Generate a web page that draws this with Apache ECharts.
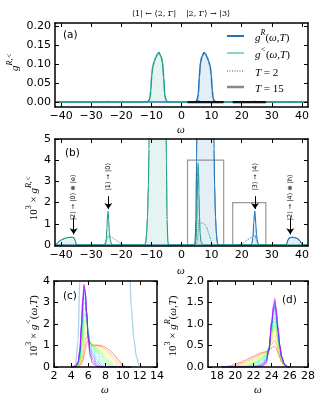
<!DOCTYPE html>
<html>
<head>
<meta charset="utf-8">
<script src="https://cdn.jsdelivr.net/npm/echarts@6/dist/echarts.min.js"></script>
<style>
  html, body { margin: 0; padding: 0; background: #fff; }
  #chart { width: 325px; height: 400px; }
</style>
</head>
<body>
<div id="chart"></div>
<script>
// all g values are in units of 1e-3

// side bumps (|2> -> |0>(x)|e>  and  |2> -> |4>(x)|h>)
const sideBumpLessOmega = [-42, -41.5, -40.5, -39.5, -38.5, -37.5, -36.5, -35.7, -35.3, -35.0, -34.6];
const sideBumpLess = [0.02, 0.05, 0.18, 0.27, 0.32, 0.35, 0.36, 0.34, 0.2, 0.06, 0];
const sideBumpRetOmega = [34.6, 35.0, 35.3, 35.7, 36.5, 37.5, 38.5, 39.3, 39.8, 40.3, 41, 42];
const sideBumpRet = [0, 0.08, 0.22, 0.32, 0.36, 0.35, 0.30, 0.2, 0.08, 0.01, 0, 0];

// |1> -> |0> peak, T=15 and T=2
const peak10Omega15 = [-26, -25.4, -25.0, -24.75, -24.55, -24.35, -24.15, -23.95, -23.65, -23.3, -22.8];
const peak10Val15 = [0, 0.05, 0.25, 0.8, 1.45, 1.6, 1.15, 0.6, 0.25, 0.05, 0];
const peak10Omega2 = [-26, -25.2, -24.8, -24.5, -24.2, -23.8, -23.4, -23, -22.5, -22, -21.5, -21, -20.5, -20, -19.5, -19, -18.5];
const peak10Val2 = [0, 0.05, 0.25, 0.4, 0.4, 0.38, 0.36, 0.34, 0.30, 0.25, 0.2, 0.15, 0.1, 0.06, 0.03, 0.01, 0];

// main peaks
const mainLessOmega = [-12.2, -11.9, -11.6, -11.3, -11.0, -10.8, -10.5, -10.2, -9.9, -9.5, -9.0, -8.5, -8.0, -7.5, -6.8, -6.3, -5.9, -5.6, -5.3, -5.0, -4.8, -4.5, -4.2];
const mainLess = [0, 0.1, 0.5, 1.3, 2.8, 4.5, 10, 30, 70, 95, 108, 118, 126, 130, 120, 104, 65, 22, 9, 4, 1.2, 0.1, 0];
const mainRetOmega = [4.2, 4.5, 4.8, 5.0, 5.3, 5.6, 5.9, 6.3, 6.8, 7.5, 8.0, 8.5, 9.0, 9.5, 9.9, 10.2, 10.5, 10.8, 11.0, 11.3, 11.6, 11.9, 12.2];
const mainRet = [0, 0.1, 1.2, 4, 9, 22, 65, 104, 120, 130, 126, 118, 108, 95, 70, 30, 10, 4.5, 2.8, 1.3, 0.5, 0.1, 0];

// panel (c): g< around |2,G> -> |3> for T = 2..15
const temps = [2, 3, 4, 5, 6, 7, 8, 9, 10, 11, 12, 13, 14, 15];
const cOmega = [4.0, 4.5, 4.8, 5.0, 5.2, 5.35, 5.5, 5.65, 5.8, 6.0, 6.2, 6.5, 7.0, 7.5, 8.0, 8.5, 9.0, 9.5, 10.0, 10.5, 11.0];
const cLess = [
  [0, 0, .02, .06, .15, .30, .55, .85, 1.10, 1.25, 1.12, 1.02, 1.02, 1.00, .92, .78, .58, .34, .10, 0, 0],
  [0, 0, .03, .09, .25, .50, .85, 1.20, 1.40, 1.35, 1.15, 1.01, 1.00, .95, .84, .66, .44, .20, .04, 0, 0],
  [0, .01, .04, .13, .38, .75, 1.20, 1.55, 1.65, 1.40, 1.15, 1.00, .97, .89, .74, .52, .28, .08, 0, 0, 0],
  [0, .01, .05, .18, .55, 1.05, 1.60, 1.90, 1.85, 1.45, 1.15, .99, .93, .81, .62, .38, .15, .02, 0, 0, 0],
  [0, .01, .07, .25, .75, 1.40, 2.00, 2.20, 2.00, 1.50, 1.15, .98, .88, .72, .49, .25, .06, 0, 0, 0, 0],
  [0, .01, .09, .33, .95, 1.75, 2.35, 2.50, 2.15, 1.55, 1.14, .96, .82, .61, .36, .13, .01, 0, 0, 0, 0],
  [0, .02, .11, .41, 1.15, 2.05, 2.70, 2.75, 2.25, 1.55, 1.12, .93, .74, .48, .22, .04, 0, 0, 0, 0, 0],
  [0, .02, .13, .49, 1.35, 2.35, 3.00, 2.95, 2.35, 1.55, 1.08, .88, .63, .33, .10, 0, 0, 0, 0, 0, 0],
  [0, .02, .15, .56, 1.55, 2.60, 3.25, 3.15, 2.45, 1.50, 1.00, .80, .49, .18, .02, 0, 0, 0, 0, 0, 0],
  [0, .02, .17, .62, 1.70, 2.80, 3.45, 3.30, 2.50, 1.45, .90, .68, .33, .07, 0, 0, 0, 0, 0, 0, 0],
  [0, .02, .19, .68, 1.82, 2.98, 3.62, 3.40, 2.55, 1.38, .78, .52, .18, .01, 0, 0, 0, 0, 0, 0, 0],
  [0, .03, .21, .73, 1.92, 3.10, 3.74, 3.46, 2.55, 1.30, .65, .35, .07, 0, 0, 0, 0, 0, 0, 0, 0],
  [0, .03, .23, .77, 1.98, 3.18, 3.82, 3.49, 2.53, 1.25, .55, .22, .03, 0, 0, 0, 0, 0, 0, 0, 0],
  [0, .03, .25, .80, 2.00, 3.20, 3.86, 3.50, 2.50, 1.20, .50, .15, .02, 0, 0, 0, 0, 0, 0, 0, 0]
];

// panel (d): gR around |3> -> |4>
const dOmega = [18.5, 19.0, 19.5, 20.0, 20.5, 21.0, 21.5, 22.0, 22.5, 23.0, 23.4, 23.7, 24.0, 24.2, 24.35, 24.5, 24.7, 24.9, 25.1, 25.4, 25.7, 26.0];
const dRet = [
  [0, .01, .03, .06, .10, .15, .20, .25, .30, .34, .36, .39, .44, .48, .48, .44, .33, .21, .11, .03, .01, 0],
  [0, 0, .01, .03, .07, .11, .16, .22, .27, .32, .35, .40, .52, .60, .62, .55, .40, .25, .13, .04, .01, 0],
  [0, 0, 0, .01, .04, .08, .13, .18, .24, .30, .34, .42, .60, .72, .75, .66, .47, .29, .15, .04, .01, 0],
  [0, 0, 0, 0, .02, .05, .09, .15, .21, .28, .33, .43, .67, .82, .86, .76, .53, .32, .16, .05, .01, 0],
  [0, 0, 0, 0, .01, .03, .06, .11, .18, .25, .31, .44, .73, .92, .97, .85, .59, .35, .18, .05, .01, 0],
  [0, 0, 0, 0, 0, .01, .04, .08, .14, .22, .29, .45, .79, 1.01, 1.07, .94, .65, .38, .19, .05, .01, 0],
  [0, 0, 0, 0, 0, 0, .02, .05, .11, .19, .27, .45, .84, 1.09, 1.16, 1.02, .70, .41, .20, .06, .01, 0],
  [0, 0, 0, 0, 0, 0, .01, .03, .08, .16, .25, .45, .89, 1.17, 1.25, 1.09, .75, .43, .21, .06, .01, 0],
  [0, 0, 0, 0, 0, 0, 0, .02, .05, .12, .22, .44, .93, 1.23, 1.32, 1.15, .79, .45, .22, .06, .01, 0],
  [0, 0, 0, 0, 0, 0, 0, .01, .03, .09, .19, .43, .97, 1.29, 1.39, 1.21, .83, .47, .23, .06, .01, 0],
  [0, 0, 0, 0, 0, 0, 0, 0, .02, .06, .16, .41, 1.00, 1.34, 1.45, 1.26, .86, .49, .24, .07, .01, 0],
  [0, 0, 0, 0, 0, 0, 0, 0, .01, .04, .13, .39, 1.03, 1.38, 1.51, 1.31, .89, .50, .24, .07, .01, 0],
  [0, 0, 0, 0, 0, 0, 0, 0, 0, .02, .10, .37, 1.05, 1.42, 1.56, 1.35, .91, .51, .25, .07, .01, 0],
  [0, 0, 0, 0, 0, 0, 0, 0, 0, .01, .08, .35, 1.07, 1.45, 1.60, 1.38, .93, .52, .25, .07, .01, 0]
];
const tempColors = ['#ff0000', '#ff6200', '#ffc400', '#d9ff00', '#77ff00', '#15ff00', '#00ff4d',
  '#00ffb3', '#00eaff', '#0088ff', '#0026ff', '#3c00ff', '#9d00ff', '#ff00ff'];

// zoom windows
const zoomRangeC = [2, 14], zoomTopC = 4;
const zoomRangeD = [17, 28], zoomTopD = 2;

// transition labels in (b)
const annotOmega = [-35.8, -24.3, 24.4, 36.1];
const annotLabelY = [2.25, 3.22, 3.22, 2.25];
const arrowFromY = [1.3, 2.3, 2.3, 1.3];
const arrowToY = [0.5, 1.7, 1.7, 0.5];
const annotText = ['|2⟩ → |0⟩ ⊗ |e⟩', '|1⟩ → |0⟩', '|3⟩ → |4⟩', '|2⟩ → |4⟩ ⊗ |h⟩'];

// ticks
const omegaTicks = [-40, -30, -20, -10, 0, 10, 20, 30, 40];
const aTicks = [0, 0.05, 0.1, 0.15, 0.2];
const bTicks = [0, 1, 2, 3, 4, 5];
const cxTicks = [2, 4, 6, 8, 10, 12, 14];
const cyTicks = [0, 1, 2, 3, 4];
const dxTicks = [18, 20, 22, 24, 26, 28];
const dyTicks = [0, 0.5, 1, 1.5, 2];

// full curves for (a)/(b)
const gLessOmega15 = [...sideBumpLessOmega, ...peak10Omega15, ...mainLessOmega, ...cOmega, 42];
const gLess15 = [...sideBumpLess, ...peak10Val15, ...mainLess, ...cLess[13], 0];
const gLessOmega2 = [...sideBumpLessOmega, ...peak10Omega2, ...mainLessOmega, ...cOmega, 42];
const gLess2 = [...sideBumpLess, ...peak10Val2, ...mainLess, ...cLess[0], 0];
const gRetOmega15 = [-42, ...mainRetOmega, ...dOmega, ...sideBumpRetOmega];
const gRet15 = [0, ...mainRet, ...dRet[13], ...sideBumpRet];
const gRetOmega2 = [-42, ...mainRetOmega, ...dOmega, ...sideBumpRetOmega];
const gRet2 = [0, ...mainRet, ...dRet[0], ...sideBumpRet];

const blue = '#2474b5', blueFill = 'rgba(36,116,181,0.18)';
const green = '#23a08b', greenFill = 'rgba(31,158,137,0.17)';

const pairs = (xs, ys, scale = 1) => xs.map((x, i) => [x, ys[i] * scale]);
const minus = v => String(v).replace('-', '\u2212');

function axes(kind, gridIndex, min, max, ticks, fmt) {
  const base = {
    type: 'value', gridIndex, min, max, z: 10,
    axisLine: {show: true, onZero: false, lineStyle: {color: '#000', width: 1.5}},
    axisTick: {show: true, inside: true, length: 4, customValues: ticks, lineStyle: {color: '#000', width: 1}},
    splitLine: {show: false}
  };
  return [
    {...base, position: kind === 'x' ? 'bottom' : 'left',
      axisLabel: {show: true, customValues: ticks, formatter: fmt, color: '#000',
        fontFamily: 'DejaVu Sans', fontSize: 11, margin: 4}},
    {...base, position: kind === 'x' ? 'top' : 'right', axisLabel: {show: false}}
  ];
}

const xAxis = [
  ...axes('x', 0, -42, 42, omegaTicks, minus),
  ...axes('x', 1, -42, 42, omegaTicks, minus),
  ...axes('x', 2, 2, 14, cxTicks, v => v),
  ...axes('x', 3, 17, 28, dxTicks, v => v)
];
const yAxis = [
  ...axes('y', 0, -0.013, 0.208, aTicks, v => v.toFixed(2)),
  ...axes('y', 1, -0.05, 5, bTicks, v => v),
  ...axes('y', 2, 0, 4, cyTicks, v => v),
  ...axes('y', 3, 0, 2, dyTicks, v => v.toFixed(1))
];

const lineBase = {type: 'line', showSymbol: false, smooth: 0.3, smoothMonotone: 'x', silent: true};

const series = [
  // (a)
  {...lineBase, xAxisIndex: 0, yAxisIndex: 0, data: pairs(gRetOmega15, gRet15, 1e-3),
    lineStyle: {color: blue, width: 1.6}, areaStyle: {color: blueFill}},
  {...lineBase, xAxisIndex: 0, yAxisIndex: 0, data: pairs(gLessOmega15, gLess15, 1e-3),
    lineStyle: {color: green, width: 1.6}, areaStyle: {color: greenFill}},
  {...lineBase, smooth: false, xAxisIndex: 0, yAxisIndex: 0, data: zoomRangeC.map(x => [x, 0]),
    lineStyle: {color: '#111', width: 2.2}},
  {...lineBase, smooth: false, xAxisIndex: 0, yAxisIndex: 0, data: zoomRangeD.map(x => [x, 0]),
    lineStyle: {color: '#111', width: 2.2}},
  // (b)
  {...lineBase, xAxisIndex: 2, yAxisIndex: 2, data: pairs(gRetOmega15, gRet15),
    lineStyle: {color: blue, width: 1.1}, areaStyle: {color: blueFill}},
  {...lineBase, xAxisIndex: 2, yAxisIndex: 2, data: pairs(gRetOmega2, gRet2),
    lineStyle: {color: blue, width: 1, type: 'dotted'},
    markArea: {silent: true, label: {show: false},
      itemStyle: {color: 'rgba(0,0,0,0)', borderColor: '#999', borderWidth: 1.2},
      data: [
        [{coord: [zoomRangeC[0], 0]}, {coord: [zoomRangeC[1], zoomTopC]}],
        [{coord: [zoomRangeD[0], 0]}, {coord: [zoomRangeD[1], zoomTopD]}]
      ]},
    markLine: {silent: true, symbol: ['none', 'arrow'], symbolSize: 6, label: {show: false},
      lineStyle: {color: '#000', width: 1, type: 'solid'},
      data: annotOmega.map((x, i) => [{coord: [x, arrowFromY[i]]}, {coord: [x, arrowToY[i]]}])}},
  {...lineBase, xAxisIndex: 2, yAxisIndex: 2, data: pairs(gLessOmega15, gLess15),
    lineStyle: {color: green, width: 1.1}, areaStyle: {color: greenFill}},
  {...lineBase, xAxisIndex: 2, yAxisIndex: 2, data: pairs(gLessOmega2, gLess2),
    lineStyle: {color: green, width: 1, type: 'dotted'}},
  // (c)
  {...lineBase, xAxisIndex: 4, yAxisIndex: 4, data: pairs(mainRetOmega, mainRet),
    lineStyle: {color: '#afd3ec', width: 1.4}},
  ...cLess.map((ys, k) => ({...lineBase, xAxisIndex: 4, yAxisIndex: 4, name: 'T=' + temps[k],
    data: pairs(cOmega, ys), lineStyle: {color: tempColors[k], width: 1, opacity: 0.42}})),
  // (d)
  ...dRet.map((ys, k) => ({...lineBase, xAxisIndex: 6, yAxisIndex: 6, name: 'T=' + temps[k],
    data: pairs(dOmega, ys), lineStyle: {color: tempColors[k], width: 1, opacity: 0.42}}))
];

const gridBase = {show: false, containLabel: false};
const option = {
  animation: false,
  backgroundColor: '#fff',
  grid: [
    {...gridBase, left: 55, top: 23, width: 253, height: 84},
    {...gridBase, left: 55, top: 139, width: 253, height: 107},
    {...gridBase, left: 54, top: 281, width: 103, height: 86},
    {...gridBase, left: 208, top: 281, width: 100, height: 86}
  ],
  xAxis, yAxis, series
};

const chart = echarts.init(document.getElementById('chart'));
chart.setOption(option);

// text
const serif = 'Liberation Serif';
const rich = {
  i: {fontFamily: serif, fontStyle: 'italic', fontSize: 11, lineHeight: 15, verticalAlign: 'bottom'},
  r: {fontFamily: serif, fontSize: 11, lineHeight: 15, verticalAlign: 'bottom'},
  si: {fontFamily: serif, fontStyle: 'italic', fontSize: 8, lineHeight: 8, verticalAlign: 'top'},
  sr: {fontFamily: serif, fontSize: 8, lineHeight: 8, verticalAlign: 'top'}
};
const txt = (x, y, text, extra = {}) => ({
  type: 'text', x, y, rotation: extra.rot || 0, z: 100,
  style: {text, rich, align: extra.align || 'center', verticalAlign: 'middle', fill: '#000',
    fontFamily: extra.family || serif, fontSize: extra.size || 11}
});
const seg = (x1, y1, x2, y2, color, width, dash) => ({
  type: 'line', z: 100, shape: {x1, y1, x2, y2},
  style: {stroke: color, lineWidth: width, lineDash: dash || null}
});
const R = Math.PI / 2;

const graphic = [
  // panel letters
  txt(63, 35, '(a)', {align: 'left', family: 'DejaVu Sans', size: 10.5}),
  txt(65, 153, '(b)', {align: 'left', family: 'DejaVu Sans', size: 10.5}),
  txt(63, 296, '(c)', {align: 'left', family: 'DejaVu Sans', size: 10.5}),
  txt(282, 300, '(d)', {align: 'left', family: 'DejaVu Sans', size: 10.5}),
  // axis names
  txt(13, 62, '{i|g}{si|R,<}', {rot: R}),
  txt(32, 198, '{r|10}{sr|3}{r| × }{i|g}{si|R,<}', {rot: R}),
  txt(32, 326, '{r|10}{sr|3}{r| × }{i|g}{si|<}{r|(}{i|ω}{r|,}{i|T}{r|)}', {rot: R}),
  txt(171, 326, '{r|10}{sr|3}{r| × }{i|g}{si|R}{r|(}{i|ω}{r|,}{i|T}{r|)}', {rot: R}),
  txt(181, 128, '{i|ω}'),
  txt(181, 269, '{i|ω}'),
  txt(105, 388, '{i|ω}'),
  txt(258, 388, '{i|ω}'),
  // top labels of (a)
  txt(154, 14, '⟨1| ← ⟨2, Γ|', {family: 'DejaVu Serif', size: 8}),
  txt(208, 14, '|2, Γ⟩ → |3⟩', {family: 'DejaVu Serif', size: 8}),
  // legend
  seg(227, 36, 244, 36, blue, 2),
  seg(227, 53, 244, 53, '#86d6c3', 2),
  seg(227, 71, 244, 71, '#555', 1, [1, 1.5]),
  seg(227, 87, 244, 87, '#888', 2.5),
  txt(255, 36, '{i|g}{si|R}{r|(}{i|ω}{r|,}{i|T}{r|)}', {align: 'left'}),
  txt(255, 53, '{i|g}{si|<}{r|(}{i|ω}{r|,}{i|T}{r|)}', {align: 'left'}),
  txt(255, 71, '{i|T}{r| = 2}', {align: 'left'}),
  txt(255, 87, '{i|T}{r| = 15}', {align: 'left'})
];

annotOmega.forEach((x, i) => {
  const p = chart.convertToPixel({xAxisIndex: 2, yAxisIndex: 2}, [x, annotLabelY[i]]);
  graphic.push(txt(p[0], p[1], annotText[i], {rot: R, family: 'DejaVu Sans', size: 6.5}));
});

chart.setOption({graphic});
</script>
</body>
</html>
